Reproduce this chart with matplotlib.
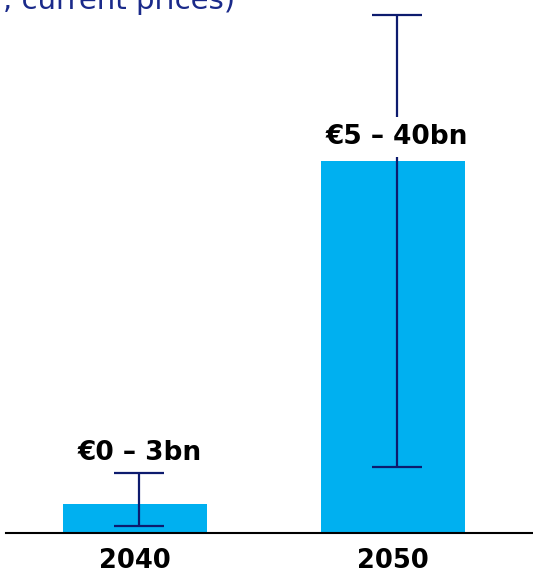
import matplotlib
matplotlib.use("Agg")
import matplotlib.pyplot as plt

# data (bn EUR)
years = ["2040", "2050"]
central = [2.24, 28.8]
low = [0.54, 5.1]
high = [4.64, 40.06]
labels = ["€0 – 3bn", "€5 – 40bn"]
label_y = [6.2, 30.6]

bar_color = "#00B0F0"
navy = "#0D1B6E"

fig = plt.figure(figsize=(5.33, 5.77), dpi=100)
ax = fig.add_axes([6 / 533, 44 / 577, 527 / 533, 533 / 577])

x = [0, 1]
ax.bar(x, central, width=0.558, color=bar_color, zorder=1)

# error bars, slightly right of bar centre like the original
ex = [i + 0.016 for i in x]
err_lo = [c - l for c, l in zip(central, low)]
err_hi = [h - c for c, h in zip(central, high)]
ax.errorbar(ex, central, yerr=[err_lo, err_hi], fmt="none", ecolor=navy,
            elinewidth=1.6, capsize=18, capthick=1.6, zorder=2)

for i, (lab, ly) in enumerate(zip(labels, label_y)):
    bg = "white" if i == 1 else "none"
    ax.text(ex[i], ly, lab, ha="center", va="center", fontsize=19,
            fontweight="bold", family="DejaVu Sans", color="black",
            zorder=3, bbox=dict(facecolor=bg, edgecolor="none", pad=5))

ax.set_xlim(-0.5, 1.543)
ax.set_ylim(0, 41.22)
ax.set_xticks(x)
ax.set_xticklabels(years, fontsize=18.5, fontweight="bold", family="DejaVu Sans")
ax.tick_params(axis="x", length=0, pad=11)
ax.set_yticks([])
for s in ["top", "left", "right"]:
    ax.spines[s].set_visible(False)
ax.spines["bottom"].set_linewidth(1.5)
ax.spines["bottom"].set_color("black")

fig.text(3 / 533, 1 - 9 / 577, ", current prices)", fontsize=21, color="#1A2A8A",
         family="DejaVu Sans", ha="left", va="baseline")

fig.savefig("out.png", dpi=100)
